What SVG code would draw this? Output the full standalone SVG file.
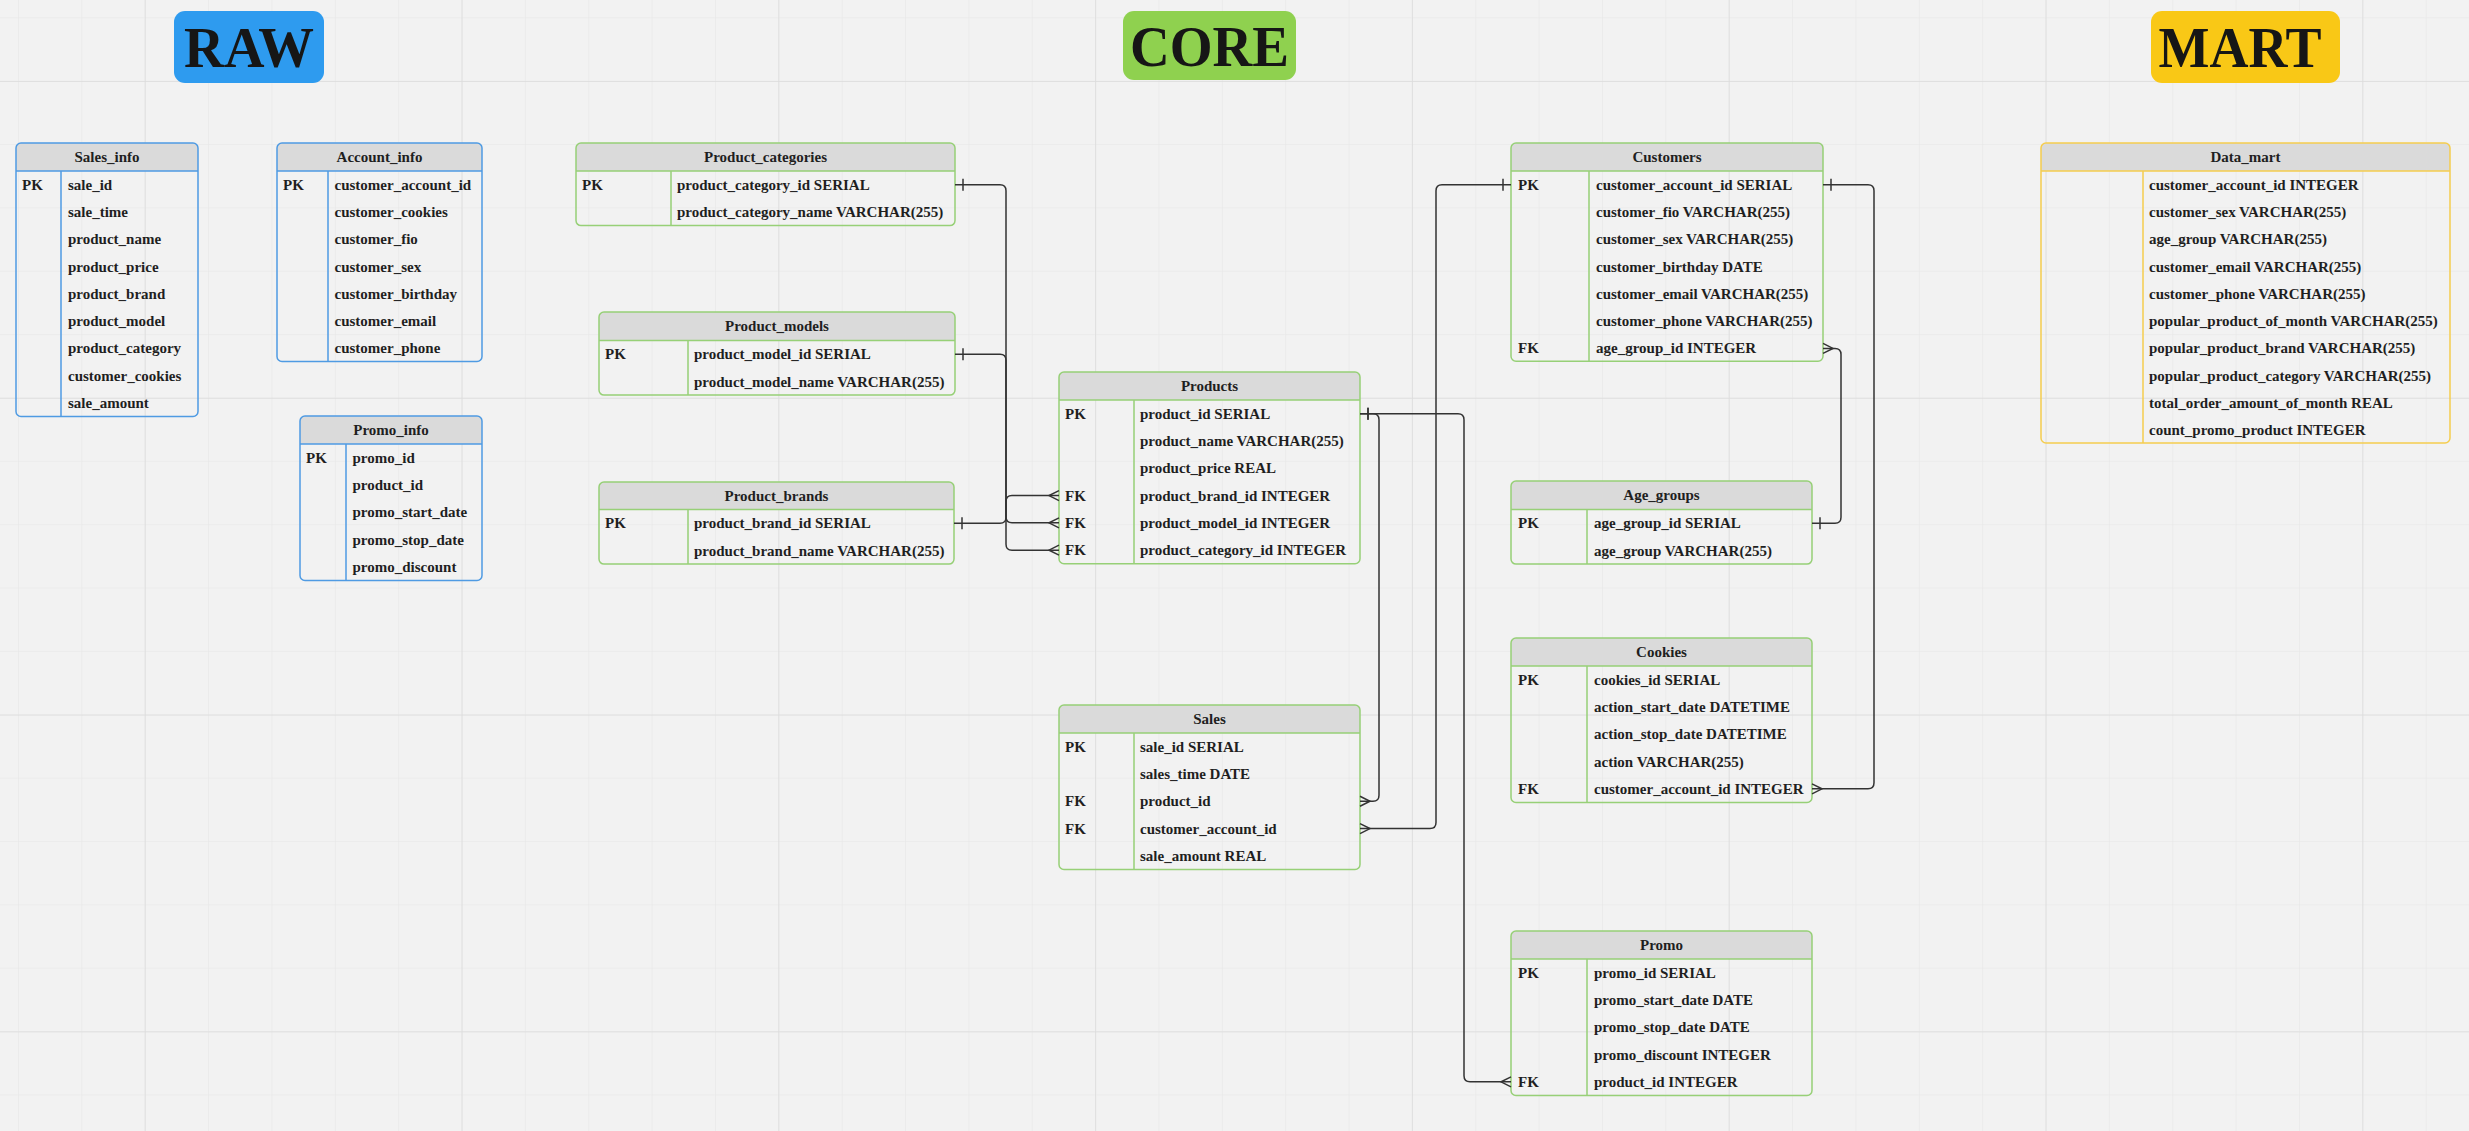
<svg xmlns="http://www.w3.org/2000/svg" width="2469" height="1131" viewBox="0 0 2469 1131">
<style>
text{font-family:"Liberation Serif","Times New Roman",serif;font-weight:bold;fill:#1f1f1f}
.f{font-size:15px}
.h{font-size:15px;text-anchor:middle}
.t{font-size:58px;text-anchor:middle;fill:#161616}
.hd{fill:#dadada}
.b{fill:none;stroke-width:1.5}
.blue .b,.blue .l{stroke:#4f9be3}
.green .b,.green .l{stroke:#97d077}
.yel .b,.yel .l{stroke:#f5cd4f}
.l{stroke-width:1.5;fill:none}
.c{fill:none;stroke:#333;stroke-width:1.5}
</style>
<defs>
<pattern id="gm" width="63.36" height="63.36" patternUnits="userSpaceOnUse" x="18" y="17.3">
<path d="M0,0V63.36M0,0H63.36" stroke="#e6e6e6" stroke-width="1.2" fill="none"/>
</pattern>
<pattern id="gM" width="316.8" height="316.8" patternUnits="userSpaceOnUse" x="144.7" y="81">
<path d="M0,0V316.8M0,0H316.8" stroke="#dcdcdc" stroke-width="1.5" fill="none"/>
</pattern>
<marker id="one" markerUnits="userSpaceOnUse" markerWidth="20" markerHeight="20" refX="0" refY="10" orient="auto" overflow="visible">
<path d="M8,4V16" stroke="#333" stroke-width="1.5" fill="none"/>
</marker>
<marker id="many" markerUnits="userSpaceOnUse" markerWidth="20" markerHeight="20" refX="0" refY="0" orient="auto" overflow="visible">
<path d="M0,-5L-10,0L0,5" stroke="#333" stroke-width="1.5" fill="none"/>
</marker>
</defs>
<rect width="2469" height="1131" fill="#f2f2f2"/>
<rect width="2469" height="1131" fill="url(#gm)"/>
<rect width="2469" height="1131" fill="url(#gM)"/>

<g id="title-raw"><rect x="174" y="11" width="150" height="72" rx="11" fill="#2e9bef"/><text class="t" x="249" y="67" textLength="130" lengthAdjust="spacingAndGlyphs">RAW</text></g>
<g id="title-core"><rect x="1123" y="11" width="173" height="69" rx="11" fill="#8fd14f"/><text class="t" x="1209.5" y="66" textLength="159" lengthAdjust="spacingAndGlyphs">CORE</text></g>
<g id="title-mart"><rect x="2151" y="11" width="189" height="72" rx="11" fill="#f9c816"/><text class="t" x="2240" y="67" textLength="163" lengthAdjust="spacingAndGlyphs">MART</text></g>

<g id="sales_info" class="blue">
<rect class="hd" x="16" y="143" width="182" height="28" rx="5"/><rect class="hd" x="16" y="153" width="182" height="18"/>
<rect class="b" x="16" y="143" width="182" height="273.4" rx="5"/>
<path class="l" d="M16,171H198M61,171V416.4"/>
<text class="h" x="107" y="162">Sales_info</text>
<text class="f" x="22" y="189.65">PK</text>
<text class="f" x="68" y="189.65">sale_id</text>
<text class="f" x="68" y="216.95">sale_time</text>
<text class="f" x="68" y="244.25">product_name</text>
<text class="f" x="68" y="271.55">product_price</text>
<text class="f" x="68" y="298.85">product_brand</text>
<text class="f" x="68" y="326.15">product_model</text>
<text class="f" x="68" y="353.45">product_category</text>
<text class="f" x="68" y="380.75">customer_cookies</text>
<text class="f" x="68" y="408.05">sale_amount</text>
</g>

<g id="account_info" class="blue">
<rect class="hd" x="277" y="143" width="205" height="28" rx="5"/><rect class="hd" x="277" y="153" width="205" height="18"/>
<rect class="b" x="277" y="143" width="205" height="218.5" rx="5"/>
<path class="l" d="M277,171H482M328,171V361.5"/>
<text class="h" x="379.5" y="162">Account_info</text>
<text class="f" x="283" y="189.65">PK</text>
<text class="f" x="334.5" y="189.65">customer_account_id</text>
<text class="f" x="334.5" y="216.95">customer_cookies</text>
<text class="f" x="334.5" y="244.25">customer_fio</text>
<text class="f" x="334.5" y="271.55">customer_sex</text>
<text class="f" x="334.5" y="298.85">customer_birthday</text>
<text class="f" x="334.5" y="326.15">customer_email</text>
<text class="f" x="334.5" y="353.45">customer_phone</text>
</g>

<g id="promo_info" class="blue">
<rect class="hd" x="300" y="416" width="182" height="28" rx="5"/><rect class="hd" x="300" y="426" width="182" height="18"/>
<rect class="b" x="300" y="416" width="182" height="164.5" rx="5"/>
<path class="l" d="M300,444H482M346,444V580.5"/>
<text class="h" x="391" y="435">Promo_info</text>
<text class="f" x="306" y="462.65">PK</text>
<text class="f" x="352.5" y="462.65">promo_id</text>
<text class="f" x="352.5" y="489.95">product_id</text>
<text class="f" x="352.5" y="517.25">promo_start_date</text>
<text class="f" x="352.5" y="544.55">promo_stop_date</text>
<text class="f" x="352.5" y="571.85">promo_discount</text>
</g>

<g id="product_categories" class="green">
<rect class="hd" x="576" y="143" width="379" height="28" rx="5"/><rect class="hd" x="576" y="153" width="379" height="18"/>
<rect class="b" x="576" y="143" width="379" height="82.6" rx="5"/>
<path class="l" d="M576,171H955M671,171V225.6"/>
<text class="h" x="765.5" y="162">Product_categories</text>
<text class="f" x="582" y="189.65">PK</text>
<text class="f" x="677" y="189.65">product_category_id SERIAL</text>
<text class="f" x="677" y="216.95">product_category_name VARCHAR(255)</text>
</g>

<g id="product_models" class="green">
<rect class="hd" x="599" y="312" width="356" height="28.5" rx="5"/><rect class="hd" x="599" y="322" width="356" height="18.5"/>
<rect class="b" x="599" y="312" width="356" height="83.1" rx="5"/>
<path class="l" d="M599,340.5H955M688,340.5V395.1"/>
<text class="h" x="777" y="331">Product_models</text>
<text class="f" x="605" y="359.2">PK</text>
<text class="f" x="694" y="359.2">product_model_id SERIAL</text>
<text class="f" x="694" y="386.5">product_model_name VARCHAR(255)</text>
</g>

<g id="product_brands" class="green">
<rect class="hd" x="599" y="482" width="355" height="27.5" rx="5"/><rect class="hd" x="599" y="492" width="355" height="17.5"/>
<rect class="b" x="599" y="482" width="355" height="82.1" rx="5"/>
<path class="l" d="M599,509.5H954M688,509.5V564.1"/>
<text class="h" x="776.5" y="501">Product_brands</text>
<text class="f" x="605" y="528.2">PK</text>
<text class="f" x="694" y="528.2">product_brand_id SERIAL</text>
<text class="f" x="694" y="555.5">product_brand_name VARCHAR(255)</text>
</g>

<g id="products" class="green">
<rect class="hd" x="1059" y="372" width="301" height="28" rx="5"/><rect class="hd" x="1059" y="382" width="301" height="18"/>
<rect class="b" x="1059" y="372" width="301" height="191.8" rx="5"/>
<path class="l" d="M1059,400H1360M1134,400V563.8"/>
<text class="h" x="1209.5" y="391">Products</text>
<text class="f" x="1065" y="418.65">PK</text>
<text class="f" x="1140" y="418.65">product_id SERIAL</text>
<text class="f" x="1140" y="445.95">product_name VARCHAR(255)</text>
<text class="f" x="1140" y="473.25">product_price REAL</text>
<text class="f" x="1065" y="500.55">FK</text>
<text class="f" x="1140" y="500.55">product_brand_id INTEGER</text>
<text class="f" x="1065" y="527.85">FK</text>
<text class="f" x="1140" y="527.85">product_model_id INTEGER</text>
<text class="f" x="1065" y="555.15">FK</text>
<text class="f" x="1140" y="555.15">product_category_id INTEGER</text>
</g>

<g id="sales" class="green">
<rect class="hd" x="1059" y="705" width="301" height="28" rx="5"/><rect class="hd" x="1059" y="715" width="301" height="18"/>
<rect class="b" x="1059" y="705" width="301" height="164.5" rx="5"/>
<path class="l" d="M1059,733H1360M1134,733V869.5"/>
<text class="h" x="1209.5" y="724">Sales</text>
<text class="f" x="1065" y="751.65">PK</text>
<text class="f" x="1140" y="751.65">sale_id SERIAL</text>
<text class="f" x="1140" y="778.95">sales_time DATE</text>
<text class="f" x="1065" y="806.25">FK</text>
<text class="f" x="1140" y="806.25">product_id</text>
<text class="f" x="1065" y="833.55">FK</text>
<text class="f" x="1140" y="833.55">customer_account_id</text>
<text class="f" x="1140" y="860.85">sale_amount REAL</text>
</g>

<g id="customers" class="green">
<rect class="hd" x="1511" y="143" width="312" height="28" rx="5"/><rect class="hd" x="1511" y="153" width="312" height="18"/>
<rect class="b" x="1511" y="143" width="312" height="218.3" rx="5"/>
<path class="l" d="M1511,171H1823M1589,171V361.3"/>
<text class="h" x="1667" y="162">Customers</text>
<text class="f" x="1518" y="189.65">PK</text>
<text class="f" x="1596" y="189.65">customer_account_id SERIAL</text>
<text class="f" x="1596" y="216.95">customer_fio VARCHAR(255)</text>
<text class="f" x="1596" y="244.25">customer_sex VARCHAR(255)</text>
<text class="f" x="1596" y="271.55">customer_birthday DATE</text>
<text class="f" x="1596" y="298.85">customer_email VARCHAR(255)</text>
<text class="f" x="1596" y="326.15">customer_phone VARCHAR(255)</text>
<text class="f" x="1518" y="353.45">FK</text>
<text class="f" x="1596" y="353.45">age_group_id INTEGER</text>
</g>

<g id="age_groups" class="green">
<rect class="hd" x="1511" y="481" width="301" height="28.5" rx="5"/><rect class="hd" x="1511" y="491" width="301" height="18.5"/>
<rect class="b" x="1511" y="481" width="301" height="83.1" rx="5"/>
<path class="l" d="M1511,509.5H1812M1587,509.5V564.1"/>
<text class="h" x="1661.5" y="500">Age_groups</text>
<text class="f" x="1518" y="528.2">PK</text>
<text class="f" x="1594" y="528.2">age_group_id SERIAL</text>
<text class="f" x="1594" y="555.5">age_group VARCHAR(255)</text>
</g>

<g id="cookies" class="green">
<rect class="hd" x="1511" y="638" width="301" height="28" rx="5"/><rect class="hd" x="1511" y="648" width="301" height="18"/>
<rect class="b" x="1511" y="638" width="301" height="164.5" rx="5"/>
<path class="l" d="M1511,666H1812M1587,666V802.5"/>
<text class="h" x="1661.5" y="657">Cookies</text>
<text class="f" x="1518" y="684.65">PK</text>
<text class="f" x="1594" y="684.65">cookies_id SERIAL</text>
<text class="f" x="1594" y="711.95">action_start_date DATETIME</text>
<text class="f" x="1594" y="739.25">action_stop_date DATETIME</text>
<text class="f" x="1594" y="766.55">action VARCHAR(255)</text>
<text class="f" x="1518" y="793.85">FK</text>
<text class="f" x="1594" y="793.85">customer_account_id INTEGER</text>
</g>

<g id="promo" class="green">
<rect class="hd" x="1511" y="931" width="301" height="28" rx="5"/><rect class="hd" x="1511" y="941" width="301" height="18"/>
<rect class="b" x="1511" y="931" width="301" height="164.5" rx="5"/>
<path class="l" d="M1511,959H1812M1587,959V1095.5"/>
<text class="h" x="1661.5" y="950">Promo</text>
<text class="f" x="1518" y="977.65">PK</text>
<text class="f" x="1594" y="977.65">promo_id SERIAL</text>
<text class="f" x="1594" y="1004.95">promo_start_date DATE</text>
<text class="f" x="1594" y="1032.25">promo_stop_date DATE</text>
<text class="f" x="1594" y="1059.55">promo_discount INTEGER</text>
<text class="f" x="1518" y="1086.85">FK</text>
<text class="f" x="1594" y="1086.85">product_id INTEGER</text>
</g>

<g id="data_mart" class="yel">
<rect class="hd" x="2041" y="143" width="409" height="28" rx="5"/><rect class="hd" x="2041" y="153" width="409" height="18"/>
<rect class="b" x="2041" y="143" width="409" height="300" rx="5"/>
<path class="l" d="M2041,171H2450M2143,171V443"/>
<text class="h" x="2245.5" y="162">Data_mart</text>
<text class="f" x="2149" y="189.65">customer_account_id INTEGER</text>
<text class="f" x="2149" y="216.95">customer_sex VARCHAR(255)</text>
<text class="f" x="2149" y="244.25">age_group VARCHAR(255)</text>
<text class="f" x="2149" y="271.55">customer_email VARCHAR(255)</text>
<text class="f" x="2149" y="298.85">customer_phone VARCHAR(255)</text>
<text class="f" x="2149" y="326.15">popular_product_of_month VARCHAR(255)</text>
<text class="f" x="2149" y="353.45">popular_product_brand VARCHAR(255)</text>
<text class="f" x="2149" y="380.75">popular_product_category VARCHAR(255)</text>
<text class="f" x="2149" y="408.05">total_order_amount_of_month REAL</text>
<text class="f" x="2149" y="435.35">count_promo_product INTEGER</text>
</g>

<g id="connectors">
<path class="c" marker-start="url(#one)" marker-end="url(#many)" d="M955,184.65H1000Q1006,184.65 1006,190.65V544.15Q1006,550.15 1012,550.15H1059"/>
<path class="c" marker-start="url(#one)" marker-end="url(#many)" d="M955,354.15H1000Q1006,354.15 1006,360.15V516.85Q1006,522.85 1012,522.85H1059"/>
<path class="c" marker-start="url(#one)" marker-end="url(#many)" d="M954,523.15H1000Q1006,523.15 1006,517.15V501.55Q1006,495.55 1012,495.55H1059"/>
<path class="c" marker-start="url(#one)" marker-end="url(#many)" d="M1360,413.65H1373Q1379,413.65 1379,419.65V795.25Q1379,801.25 1373,801.25H1360"/>
<path class="c" marker-start="url(#one)" marker-end="url(#many)" d="M1360,413.65H1458Q1464,413.65 1464,419.65V1075.85Q1464,1081.85 1470,1081.85H1511"/>
<path class="c" marker-start="url(#one)" marker-end="url(#many)" d="M1511,184.65H1442Q1436,184.65 1436,190.65V822.55Q1436,828.55 1430,828.55H1360"/>
<path class="c" marker-start="url(#one)" marker-end="url(#many)" d="M1823,184.65H1868Q1874,184.65 1874,190.65V782.85Q1874,788.85 1868,788.85H1812"/>
<path class="c" marker-start="url(#one)" marker-end="url(#many)" d="M1812,523.15H1835Q1841,523.15 1841,517.15V354.45Q1841,348.45 1835,348.45H1823"/>
</g>
</svg>
